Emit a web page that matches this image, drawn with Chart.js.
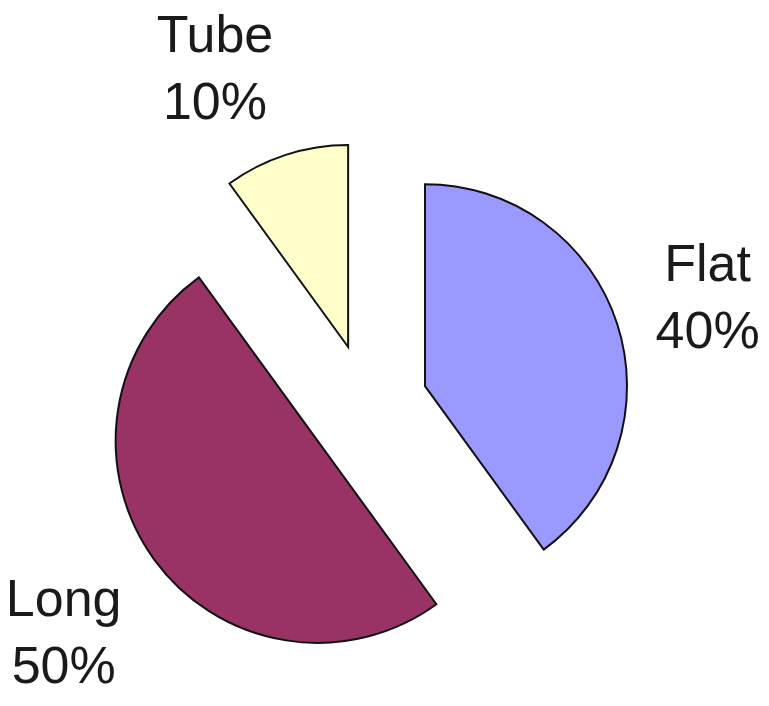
<!DOCTYPE html>
<html>
<head>
<meta charset="utf-8">
<script src="https://cdn.jsdelivr.net/npm/chart.js@4/dist/chart.umd.min.js"></script>
<style>
  body { margin: 0; background: #fff; }
  #wrap { width: 769px; height: 706px; position: relative; }
</style>
</head>
<body>
<div id="wrap"><canvas id="myChart"></canvas></div>
<script>
// data
const categories = ['Flat', 'Long', 'Tube'];
const shares = [40, 50, 10];
const sliceColors = ['#9999FF', '#993366', '#FFFFCC'];

const EXPLODE = 61;   // px each slice is pulled out from the centre
const RADIUS = 202;

// move every arc out along its mid angle (chart.js' own offset also grows the radius)
const explodeSlices = {
  id: 'explodeSlices',
  afterDatasetUpdate(chart, args) {
    const meta = chart.getDatasetMeta(args.index);
    meta.data.forEach(arc => {
      const mid = (arc.startAngle + arc.endAngle) / 2;
      arc.x += Math.cos(mid) * EXPLODE;
      arc.y += Math.sin(mid) * EXPLODE;
    });
  }
};

const sliceLabels = {
  id: 'sliceLabels',
  afterDatasetsDraw(chart) {
    const ctx = chart.ctx;
    const meta = chart.getDatasetMeta(0);
    ctx.save();
    ctx.font = '52px "Liberation Sans", Arial, sans-serif';
    ctx.fillStyle = '#1a1a1a';
    ctx.textBaseline = 'alphabetic';
    ctx.textAlign = 'center';
    meta.data.forEach((arc, i) => {
      const mid = (arc.startAngle + arc.endAngle) / 2;
      const dist = arc.outerRadius * 1.2;
      const ax = arc.x + Math.cos(mid) * dist;
      const ay = arc.y + Math.sin(mid) * dist;
      const lines = [categories[i], shares[i] + '%'];
      const lineH = 67;
      const w = Math.max(...lines.map(t => ctx.measureText(t).width));
      const h = lineH + 40;
      const cx = Math.cos(mid) < 0 ? ax - w / 2 : ax + w / 2;
      const cy = ay + Math.sin(mid) * h / 2 + (Math.sin(mid) > 0 ? 15 : 0);
      const top = cy - h / 2;
      lines.forEach((t, k) => {
        ctx.fillText(t, cx, top + 40 + k * lineH);
      });
    });
    ctx.restore();
  }
};

new Chart(document.getElementById('myChart'), {
  type: 'pie',
  data: {
    labels: categories,
    datasets: [{
      data: shares,
      backgroundColor: sliceColors,
      borderColor: '#111',
      borderWidth: 2,
      borderJoinStyle: 'miter'
    }]
  },
  options: {
    responsive: true,
    maintainAspectRatio: false,
    animation: false,
    radius: RADIUS,
    layout: { padding: { left: 0, right: 35, top: 104, bottom: 0 } },
    plugins: {
      legend: { display: false },
      tooltip: { enabled: false }
    }
  },
  plugins: [explodeSlices, sliceLabels]
});
</script>
</body>
</html>
